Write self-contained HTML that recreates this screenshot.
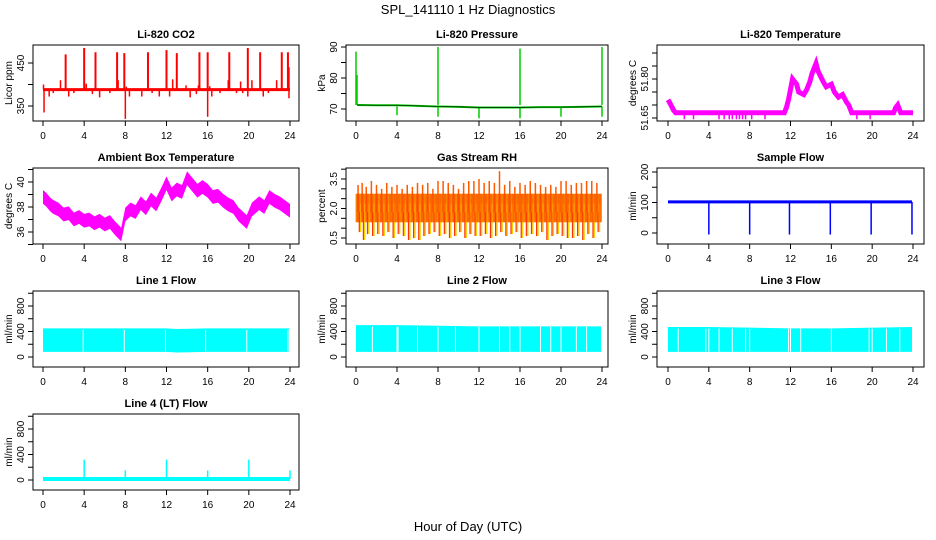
<!DOCTYPE html>
<html><head><meta charset="utf-8">
<style>
html,body{margin:0;padding:0;background:#fff;}
svg{display:block;font-family:"Liberation Sans",sans-serif;}
</style></head>
<body>
<svg id="chart" width="936" height="540" viewBox="0 0 936 540" xmlns="http://www.w3.org/2000/svg">
<text x="468" y="14" font-size="13" text-anchor="middle">SPL_141110  1 Hz Diagnostics</text>
<text x="468" y="531" font-size="13" text-anchor="middle">Hour of Day (UTC)</text>
</svg>
<script>
// ---------- data ----------
const hourTicks = [0,4,8,12,16,20,24];
// CO2
const co2Base = 388;
const co2UpHours = [2.2,4.0,5.1,7.2,7.9,10.2,12.0,13.0,15.2,16.0,18.1,19.9,21.1,23.2,23.8];
const co2UpTops  = [470,485,475,475,473,475,480,473,475,475,475,485,475,475,475];
const co2SmallHours = [0.05,1.7,4.2,7.3,8.1,10.2,12.6,13.9,15.1,16.2,18.0,19.2,20.3,22.7,23.9];
const co2SmallTops  = [400,410,402,410,395,395,412,398,398,396,410,407,410,410,440];
const co2DownHours = [0.1,0.6,1.0,2.5,3.0,4.8,5.5,6.5,8.0,8.4,9.6,10.6,11.3,12.3,14.3,14.9,16.0,16.4,17.2,18.8,19.4,19.9,21.4,21.9,23.9];
const co2DownBots  = [335,372,380,372,380,378,370,380,320,372,372,380,372,372,370,378,325,372,380,380,380,372,372,380,368];
// Pressure
const presHours = [0.1,2,4,6,8,10,12,14,16,18,20,22,24];
const presVals  = [71.3,71.2,71.2,71.0,70.8,70.7,70.5,70.5,70.5,70.6,70.6,70.7,70.8];
const presUpHours = [0.0,0.1,8.0,16.0,24.0];
const presUpTops  = [88.5,81,90,89.5,90];
const presDownHours = [4,8,12,16,20,24];
const presDownBots  = [68,67.5,67,67,67.5,67.5];
// Li-820 temperature
const ltHours = [0,0.15,0.35,0.55,0.75,11.4,11.6,11.8,12.0,12.2,12.6,12.8,13.3,13.6,13.9,14.1,14.5,14.7,15.2,15.5,16.0,16.3,16.7,17.1,17.5,17.7,18.0,22.1,22.3,22.5,22.8,24];
const ltVals  = [51.720,51.710,51.695,51.680,51.670,51.670,51.690,51.720,51.760,51.800,51.780,51.750,51.740,51.760,51.790,51.820,51.860,51.830,51.790,51.770,51.780,51.750,51.730,51.740,51.710,51.700,51.670,51.670,51.690,51.700,51.670,51.670];
const ltDownHours = [1.6,2.5,5.0,5.5,6.0,6.3,6.7,7.0,7.3,7.6,8.2,9.5,18.5,19.8];
const ltDownBots  = [51.645,51.645,51.645,51.645,51.645,51.645,51.645,51.645,51.645,51.645,51.645,51.645,51.645,51.645];
// Ambient box temperature
const ambHours = [0,0.3,0.7,1,1.5,2,2.5,3,3.5,4,4.5,5,5.5,6,6.5,7,7.6,8,8.5,9,9.5,10,10.5,11,11.5,12,12.5,13,13.5,14,14.5,15,15.5,16,16.5,17,17.5,18,18.5,19,19.8,20.3,21,21.5,22,22.5,23,23.5,24];
const ambMid   = [38.8,38.6,38.2,38.0,37.8,37.4,37.5,37.0,37.2,36.9,37.0,36.7,36.9,36.6,36.8,36.3,35.8,37.4,37.8,37.6,38.3,37.9,38.6,38.2,39.0,39.9,39.0,39.4,39.2,40.3,39.8,39.3,39.6,39.3,38.8,38.9,38.5,38.2,38.0,37.4,36.8,37.8,38.3,38.0,38.8,38.5,38.3,38.0,37.7];
const ambHalf  = 0.55;
// Gas stream RH
const rhLo = 1.3, rhHi = 2.75;
const rhSpikeHours = [0.2,0.6,1.0,1.5,2.0,2.5,3.0,3.5,4.0,4.5,5.0,5.5,6.0,6.5,7.0,7.5,8.0,8.5,9.0,9.5,10.0,10.5,11.0,11.5,12.0,12.5,13.0,13.5,14.0,14.5,15.0,15.5,16.0,16.5,17.0,17.5,18.0,18.5,19.0,19.5,20.0,20.5,21.0,21.5,22.0,22.5,23.0,23.5];
const rhSpikeTops  = [3.2,3.3,3.1,3.4,3.2,3.0,3.3,3.1,3.2,3.0,3.2,3.1,3.3,3.2,3.3,3.0,3.4,3.4,3.3,3.2,3.0,3.3,3.4,3.4,3.5,3.3,3.4,3.3,3.9,3.2,3.4,3.1,3.3,3.2,3.4,3.3,3.2,3.1,3.2,3.1,3.4,3.4,3.2,3.3,3.3,3.4,3.4,3.3];
const rhSpikeBots  = [0.8,0.4,0.7,0.6,0.7,0.6,0.8,0.5,0.7,0.6,0.4,0.5,0.4,0.6,0.7,0.8,0.6,0.7,0.5,0.6,0.8,0.5,0.7,0.6,0.6,0.7,0.5,0.6,0.8,0.6,0.7,0.8,0.5,0.6,0.7,0.6,0.8,0.4,0.6,0.7,0.6,0.5,0.5,0.6,0.4,0.7,0.5,0.8];
// Sample flow
const sfBase = 102;
const sfDipHours = [4.0,8.0,11.9,15.9,19.9,23.9];
const sfDipBots  = [-5,-5,-5,-5,-5,-5];
// Line flows
const bandHours = [0,4,8,12,13,16,24];
const l1Lo = [80,80,80,80,70,80,80], l1Hi = [450,450,450,450,440,450,450];
const l1Gaps = [3.9,7.9,11.9,15.8,19.8,23.8];
const l2Lo = [80,80,80,80,80,80,80], l2Hi = [500,500,490,480,480,480,480];
const l2Gaps = [1.6,4.0,4.1,6.0,8.0,9.7,12.0,14.0,15.0,16.0,18.0,19.0,20.0,21.5,22.5];
const l3Lo = [80,80,80,80,80,80,80], l3Hi = [470,470,460,450,450,450,470];
const l3Gaps = [1.0,3.7,4.0,5.0,6.3,7.6,8.0,11.8,12.0,13.0,16.0,19.7,20.0,21.4,22.7];
const l4Base = 15;
const l4SpikeHours = [4.0,8.0,12.0,16.0,20.0,24.0];
const l4SpikeTops  = [320,150,320,150,320,150];

// ---------- layout ----------
const NS = "http://www.w3.org/2000/svg";
const svg = document.getElementById('chart');
const colBox = [[33,299],[346,608],[657,924]];
const colX0 = [43,356,668], colX24 = [290,602,913];
const rowTop = [45,168,291,414], boxH = 76;
const FS = 10;
function mk(tag, attrs, parent){ const e=document.createElementNS(NS,tag); for(const k in attrs) e.setAttribute(k,attrs[k]); (parent||svg).appendChild(e); return e; }

function panel(id, col,row, title, ylab, v1,y1,v2,y2, ticks, labels, labelText){
  const g = mk('g',{});
  
  
  const bx0=colBox[col][0], bx1=colBox[col][1], by0=rowTop[row], by1=rowTop[row]+boxH;
  const xs = h => colX0[col] + (colX24[col]-colX0[col])*h/24;
  const ys = v => y1 + (v-v1)*(y2-y1)/(v2-v1);
  const t = mk('text',{x:(bx0+bx1)/2,y:by0-7,'font-size':11,'font-weight':'bold','text-anchor':'middle'},g);
  
  
  t.textContent = title;
  const box = mk('rect',{x:bx0,y:by0,width:bx1-bx0,height:boxH,fill:'none',stroke:'#000','stroke-width':1},g);
  
  
  const xa = mk('g',{},g);
  
  
  hourTicks.forEach(h=>{
    mk('line',{x1:xs(h),x2:xs(h),y1:by1,y2:by1+5,stroke:'#000'},xa);
    const tx = mk('text',{x:xs(h),y:by1+18,'font-size':FS,'text-anchor':'middle'},xa);
    tx.textContent = h;
  });
  const ya = mk('g',{},g);
  
  
  ticks.forEach(v=>{ const y=ys(v); if(y<by0-0.5||y>by1+0.5) return; mk('line',{x1:bx0-5,x2:bx0,y1:y,y2:y,stroke:'#000'},ya); });
  labels.forEach((v,i)=>{ const y=ys(v); const tx=mk('text',{x:bx0-9,y:y,'font-size':FS,'text-anchor':'middle',transform:`rotate(-90 ${bx0-9} ${y})`},ya); tx.textContent = labelText? labelText[i] : v; });
  const yl = mk('text',{x:bx0-21,y:(by0+by1)/2,'font-size':FS,'text-anchor':'middle',transform:`rotate(-90 ${bx0-21} ${(by0+by1)/2})`},g);
  
  
  yl.textContent = ylab;
  const clip = mk('clipPath',{id:'c'+id},g);
  mk('rect',{x:bx0,y:by0,width:bx1-bx0,height:boxH},clip);
  const data = mk('g',{'clip-path':`url(#c${id})`},g);
  
  
  return {xs,ys,data};
}
function spikes(p, hours, from, tos, color, w){
  hours.forEach((h,i)=>{ const f = Array.isArray(from)?from[i]:from;
    const l=mk('line',{x1:p.xs(h),x2:p.xs(h),y1:p.ys(f),y2:p.ys(tos[i]),stroke:color,'stroke-width':w||1.5},p.data);
    
    
  });
}
function poly(p, hours, vals, color, w){
  const pts = hours.map((h,i)=>p.xs(h)+','+p.ys(vals[i])).join(' ');
  const l=mk('polyline',{points:pts,fill:'none',stroke:color,'stroke-width':w,'stroke-linejoin':'miter'},p.data);
  
  
}
function band(p, hours, lo, hi, color){
  const pts = hours.map((h,i)=>p.xs(h)+','+p.ys(hi[i])).concat(hours.slice().reverse().map((h,j)=>{const i=hours.length-1-j; return p.xs(h)+','+p.ys(lo[i]);})).join(' ');
  const b=mk('polygon',{points:pts,fill:color},p.data);
  
  
}

// CO2
let p = panel('co2',0,0,'Li-820 CO2','Licor ppm',450,63,350,106,[350,400,450],[350,450]);
spikes(p, co2UpHours, co2Base, co2UpTops, '#ff0000', 2);
spikes(p, co2SmallHours, co2Base, co2SmallTops, '#ff0000', 1.5);
spikes(p, co2DownHours, co2Base, co2DownBots, '#ff0000', 1.5);
poly(p,[0,24],[co2Base,co2Base],'#ff0000',3);

// Pressure
p = panel('pressure',1,0,'Li-820 Pressure','kPa',90,47,70,109,[70,75,80,85,90],[70,80,90]);
spikes(p, presUpHours, presVals[0], presUpTops, '#00cc00', 1.5);
spikes(p, presDownHours, 70.8, presDownBots, '#00cc00', 1.5);
poly(p, presHours, presVals, '#00cc00', 2);
poly(p, presHours, presVals, '#003300', 0.8);

// Li-820 Temperature
p = panel('li820-temp',2,0,'Li-820 Temperature','degrees C',51.65,118,51.80,79,[51.65,51.70,51.75,51.80,51.85,51.90],[51.65,51.80],['51.65','51.80']);
spikes(p, ltDownHours, 51.67, ltDownBots, '#ff00ff', 1.5);
poly(p, ltHours, ltVals, '#ff00ff', 5);

// Ambient
p = panel('ambient-temp',0,1,'Ambient Box Temperature','degrees C',40,182,36,232,[35,36,37,38,39,40,41],[36,38,40]);
band(p, ambHours, ambMid.map(v=>v-ambHalf), ambMid.map(v=>v+ambHalf), '#ff00ff');

// RH
p = panel('gas-rh',1,1,'Gas Stream RH','percent',3.5,179,0.5,238,[0.5,1,1.5,2,2.5,3,3.5,4],[0.5,2.0,3.5],['0.5','2.0','3.5']);
band(p,[0,24],[rhLo,rhLo],[rhHi,rhHi],'#f4a000');
spikes(p, rhSpikeHours, rhLo+0.5, rhSpikeTops, '#ff5a00', 1.5);
spikes(p, rhSpikeHours.map(h=>h+0.25), rhHi-0.5, rhSpikeBots, '#ffd000', 1.5);
spikes(p, rhSpikeHours.map(h=>h+0.12), rhLo+0.5, rhSpikeBots, '#ff3300', 1.2);
(function(){ const pat=[]; for(let i=0;i<24;i+=0.125) pat.push(i);
  spikes(p, pat, rhLo, pat.map(()=>rhHi), '#ff4000', 0.6); })();

// Sample flow
p = panel('sample-flow',2,1,'Sample Flow','ml/min',200,172,0,233,[0,50,100,150,200],[0,100,200]);
spikes(p, sfDipHours, sfBase, sfDipBots, '#0000ff', 1.5);
poly(p,[0,23.9],[sfBase,sfBase],'#0000ff',3);

// Line flows
function flowPanel(id,col,row,title,lo,hi,gaps){
  const r = row===2 ? [357,306] : [480,429];
  const q = panel(id,col,row,title,'ml/min',0,r[0],800,r[1],[-200,0,200,400,600,800,1000],[0,400,800]);
  if(lo){ band(q,bandHours.map(h=>h===24?23.9:h),lo,hi,'#00ffff'); spikes(q,gaps,lo[0]+5,gaps.map(()=>hi[0]-25),'#ffffff',1); }
  return q;
}
flowPanel('line1-flow',0,2,'Line 1 Flow',l1Lo,l1Hi,l1Gaps);
flowPanel('line2-flow',1,2,'Line 2 Flow',l2Lo,l2Hi,l2Gaps);
flowPanel('line3-flow',2,2,'Line 3 Flow',l3Lo,l3Hi,l3Gaps);
p = flowPanel('line4-flow',0,3,'Line 4 (LT) Flow',null);
spikes(p, l4SpikeHours, l4Base, l4SpikeTops, '#00ffff', 1.5);
poly(p,[0,24],[l4Base,l4Base],'#00ffff',4);
</script>
</body></html>
